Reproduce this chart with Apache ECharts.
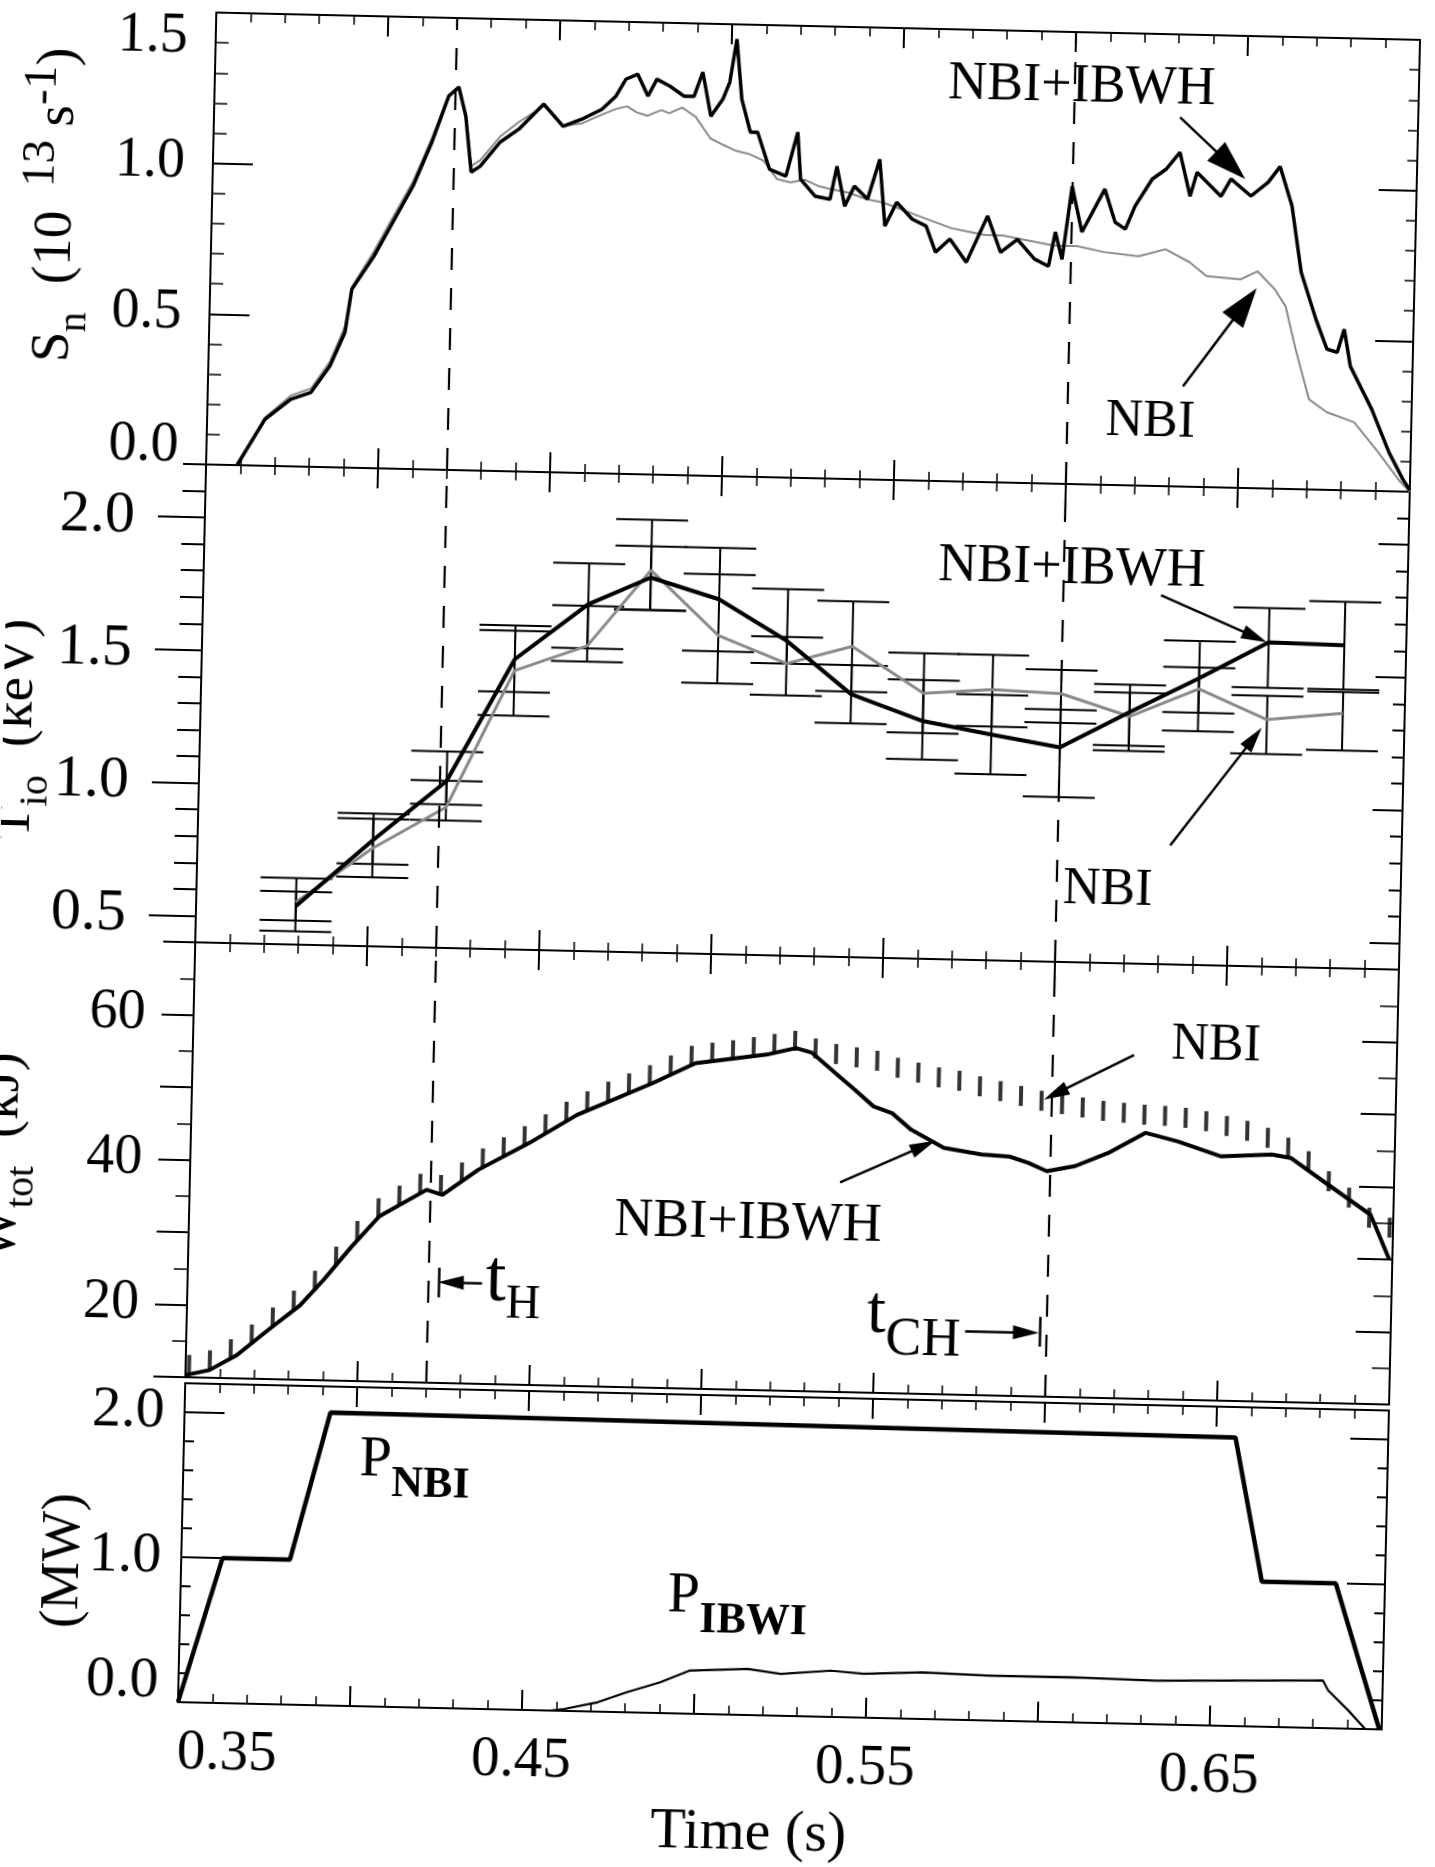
<!DOCTYPE html>
<html><head><meta charset="utf-8">
<script src="https://cdn.jsdelivr.net/npm/echarts@6/dist/echarts.min.js"></script>
<style>
html,body{margin:0;padding:0;background:#fff;width:1435px;height:1867px;overflow:hidden;}
#chart{position:absolute;left:0;top:0;width:1435px;height:1867px;transform-origin:799px 871px;transform:rotate(1.3deg);}
</style></head><body><div id="chart"></div>
<script>
const F = 'Liberation Serif';
const T_H = 0.423, T_CH = 0.598;

// ---------- tick labels ----------
const timeLabels = ['0.35','0.45','0.55','0.65'];
const snLabels = ['0.0','0.5','1.0','1.5'];
const tiLabels = ['0.5','1.0','1.5','2.0'];
const wLabels = ['20','40','60'];
const pLabels = ['0.0','1.0','2.0'];

// ---------- Panel 1: neutron source rate S_n [t, value] ----------
const snIbwh = [[0.359,0.00],[0.3668,0.154],[0.3742,0.223],[0.380,0.247],[0.3853,0.335],[0.3895,0.449],[0.3912,0.592],[0.3974,0.703],[0.4027,0.818],[0.4083,0.939],[0.4135,1.086],[0.4181,1.240],[0.421,1.271],[0.4232,1.175],[0.4251,0.990],[0.4277,1.010],[0.4333,1.091],[0.4387,1.136],[0.4458,1.221],[0.4515,1.149],[0.457,1.174],[0.4627,1.208],[0.4667,1.253],[0.4695,1.310],[0.4729,1.327],[0.476,1.255],[0.4785,1.312],[0.4823,1.290],[0.4865,1.258],[0.4894,1.258],[0.4918,1.339],[0.4944,1.193],[0.4978,1.251],[0.4997,1.308],[0.5015,1.451],[0.5033,1.252],[0.506,1.143],[0.5081,1.144],[0.5118,1.022],[0.5166,1.000],[0.5198,1.147],[0.5209,0.991],[0.5252,0.936],[0.5296,0.927],[0.5314,1.037],[0.5339,0.905],[0.5366,0.972],[0.5405,0.930],[0.5438,1.063],[0.5457,0.842],[0.549,0.922],[0.5536,0.867],[0.5577,0.845],[0.5606,0.759],[0.5647,0.804],[0.5696,0.728],[0.5755,0.883],[0.5795,0.764],[0.5843,0.808],[0.5894,0.744],[0.5935,0.721],[0.5953,0.835],[0.5974,0.745],[0.5999,0.988],[0.6030,0.837],[0.6094,0.981],[0.6126,0.872],[0.6156,0.850],[0.6183,0.927],[0.6231,1.018],[0.6271,1.052],[0.6310,1.109],[0.6342,0.964],[0.6361,1.044],[0.6432,0.966],[0.6460,1.024],[0.6519,0.969],[0.6568,1.016],[0.6602,1.069],[0.6639,0.939],[0.6670,0.720],[0.6716,0.565],[0.6750,0.467],[0.6780,0.457],[0.6799,0.534],[0.6819,0.412],[0.6884,0.271],[0.6937,0.129],[0.6979,0.041],[0.700,0.005]];
const snNbi = [[0.359,0.00],[0.3668,0.16],[0.3742,0.235],[0.380,0.26],[0.3853,0.35],[0.3895,0.47],[0.3912,0.60],[0.3974,0.72],[0.4027,0.835],[0.4083,0.955],[0.4135,1.10],[0.4181,1.245],[0.421,1.27],[0.4232,1.18],[0.4251,1.01],[0.4277,1.03],[0.4333,1.11],[0.4387,1.16],[0.4458,1.215],[0.4515,1.15],[0.457,1.16],[0.4627,1.19],[0.4667,1.21],[0.470,1.22],[0.4729,1.20],[0.476,1.19],[0.480,1.21],[0.4823,1.20],[0.486,1.22],[0.490,1.19],[0.4944,1.12],[0.498,1.10],[0.502,1.08],[0.506,1.07],[0.510,1.05],[0.514,0.99],[0.518,0.98],[0.522,0.99],[0.526,0.97],[0.530,0.96],[0.535,0.95],[0.540,0.93],[0.545,0.92],[0.550,0.90],[0.555,0.88],[0.560,0.86],[0.565,0.84],[0.570,0.83],[0.575,0.82],[0.580,0.82],[0.585,0.81],[0.590,0.80],[0.595,0.79],[0.6017,0.790],[0.6097,0.772],[0.6196,0.761],[0.6274,0.786],[0.6345,0.745],[0.6395,0.700],[0.6495,0.692],[0.6543,0.720],[0.6594,0.662],[0.6627,0.606],[0.6659,0.464],[0.6701,0.299],[0.6753,0.258],[0.6834,0.226],[0.6906,0.128],[0.6966,0.040],[0.700,0.0]];

// ---------- Panel 2: central ion temperature T_io ----------
const tiT      = [0.379,0.401,0.422,0.441,0.462,0.480,0.500,0.520,0.539,0.560,0.580,0.600,0.620,0.640,0.660,0.682];
const tiIbwhV  = [0.545,0.80,1.029,1.493,1.706,1.812,1.736,1.585,1.390,1.295,1.25,1.208,1.346,1.48,1.621,1.616];
const tiIbwhLo = [0.45,0.71,0.94,1.37,1.54,1.69,1.54,1.50,1.28,1.15,1.10,1.02,1.20,1.35,1.45,1.45];
const tiIbwhHi = [0.65,0.90,1.14,1.62,1.86,2.03,1.93,1.78,1.50,1.45,1.40,1.35,1.45,1.62,1.75,1.78];
const tiNbiV   = [0.56,0.77,0.93,1.45,1.55,1.84,1.60,1.50,1.57,1.40,1.42,1.41,1.33,1.44,1.33,1.36];
const tiNbiLo  = [0.49,0.66,0.88,1.28,1.49,1.69,1.42,1.38,1.40,1.25,1.28,1.30,1.22,1.28,1.20,1.22];
const tiNbiHi  = [0.60,0.88,1.03,1.60,1.70,1.93,1.83,1.60,1.74,1.55,1.55,1.50,1.42,1.52,1.42,1.44];

// ---------- Panel 3: stored energy W_tot ----------
const wIbwh = [[0.350,10.3],[0.3569,11.05],[0.3648,13.2],[0.3738,16.8],[0.3829,20.3],[0.3896,23.9],[0.3974,28.5],[0.4053,32.8],[0.4189,36.6],[0.4235,35.95],[0.4337,39.5],[0.4485,43.4],[0.4621,47.4],[0.4838,52.0],[0.4962,54.9],[0.5167,56.3],[0.5253,57.3],[0.530,56.7],[0.5386,53.3],[0.5426,51.75],[0.5482,49.5],[0.5537,48.6],[0.5593,46.4],[0.5689,44.0],[0.5799,43.2],[0.5881,43.0],[0.5936,42.2],[0.599,41.1],[0.6072,41.9],[0.6167,43.8],[0.6274,46.7],[0.637,45.6],[0.6494,43.7],[0.6643,44.1],[0.6698,43.7],[0.6809,40.1],[0.6934,36.1],[0.6991,30.0]];
const wNbi = [[0.351,11.7],[0.357,12.4],[0.363,14.0],[0.369,16.1],[0.375,18.5],[0.381,20.9],[0.387,23.7],[0.393,27.1],[0.399,30.7],[0.405,33.9],[0.411,35.7],[0.417,37.4],[0.423,37.3],[0.429,39.1],[0.435,41.1],[0.441,42.7],[0.447,44.3],[0.453,46.0],[0.459,47.8],[0.465,49.3],[0.471,50.7],[0.477,51.9],[0.483,53.1],[0.489,54.5],[0.495,55.9],[0.501,56.4],[0.507,56.8],[0.513,57.3],[0.519,57.8],[0.525,58.3],[0.531,57.3],[0.537,56.6],[0.543,56.2],[0.549,55.8],[0.555,54.9],[0.561,54.3],[0.567,53.7],[0.573,53.3],[0.579,52.6],[0.585,52.0],[0.591,51.4],[0.597,50.8],[0.603,50.4],[0.609,50.0],[0.615,49.6],[0.621,49.4],[0.627,49.2],[0.633,49.1],[0.639,48.9],[0.645,48.5],[0.651,47.9],[0.657,47.3],[0.663,46.4],[0.669,45.1],[0.675,43.3],[0.681,40.6],[0.687,38.4],[0.693,35.7],[0.699,34.4]];

// ---------- Panel 4: heating powers (MW) ----------
const pNbi = [[0.350,0],[0.362,1.0],[0.3816,1.0],[0.3924,2.02],[0.6556,1.99],[0.6642,1.0],[0.6857,1.0],[0.6993,0]];
const pIbwi = [[0.4582,0],[0.4624,0.014],[0.472,0.065],[0.4803,0.138],[0.490,0.212],[0.4984,0.297],[0.5153,0.318],[0.525,0.289],[0.5395,0.319],[0.5491,0.302],[0.566,0.322],[0.5855,0.31],[0.6097,0.311],[0.634,0.301],[0.6583,0.315],[0.6826,0.328],[0.6842,0.26],[0.6902,0.125],[0.6952,0]];

// ---------- helpers ----------
const black = '#000';
function xAx(g, pos) {
  const lab = (g === 3 && pos === 'bottom');
  return {
    type: 'value', gridIndex: g, position: pos, min: 0.35, max: 0.70, interval: 0.05,
    axisLine: {show: true, onZero: false, lineStyle: {color: black, width: 2}},
    axisTick: {show: true, inside: true, length: 20, lineStyle: {color: black, width: 2}},
    minorTick: {show: true, splitNumber: 5, length: 9, lineStyle: {color: black, width: 1.5}},
    splitLine: {show: false}, minorSplitLine: {show: false},
    axisLabel: lab ? {
      show: true, margin: 23, color: black, fontFamily: F, fontSize: 57, alignMinLabel: 'left',
      formatter: v => { const s = v.toFixed(2); return timeLabels.includes(s) ? s : ''; }
    } : {show: false}
  };
}
function yAx(g, pos, o) {
  return Object.assign({
    type: 'value', gridIndex: g, position: pos,
    axisLine: {show: true, onZero: false, lineStyle: {color: black, width: 2}},
    splitLine: {show: false}, minorSplitLine: {show: false},
    axisLabel: {show: false}
  }, o);
}
const tick = (inside, len) => ({show: true, inside: inside, length: len, lineStyle: {color: black, width: 2}});
const minor = (n, len) => ({show: true, splitNumber: n, length: len, lineStyle: {color: black, width: 1.5}});
const lab = (margin, size, fmt, rich) => ({show: true, margin: margin, color: black, fontFamily: F, fontSize: size, formatter: fmt, rich: rich || {}});

function dashML() {
  return {silent: true, symbol: ['none', 'none'], label: {show: false},
    lineStyle: {color: black, width: 2.2, type: [22, 18]},
    emphasis: {disabled: true},
    data: [{xAxis: T_H}, {xAxis: T_CH}]};
}
function arrowML(list) {
  return {silent: true, label: {show: false}, emphasis: {disabled: true},
    lineStyle: {color: black, width: 2.5, type: 'solid'},
    data: list.map(a => [
      {coord: a.from, symbol: 'none'},
      {coord: a.to, symbol: a.head ? 'triangle' : 'none', symbolSize: a.head || 1}
    ])};
}
function errBar(xi, yi, lo, hi) {
  return {
    type: 'custom', xAxisIndex: xi, yAxisIndex: yi, silent: true, z: 1,
    data: tiT.map((t, i) => [t, lo[i], hi[i]]),
    encode: {x: 0, y: [1, 2]},
    renderItem: (params, api) => {
      const t = api.value(0);
      const a = api.coord([t, api.value(1)]), b = api.coord([t, api.value(2)]);
      const hw = 36, st = {stroke: black, lineWidth: 2};
      return {type: 'group', children: [
        {type: 'line', shape: {x1: a[0], y1: a[1], x2: b[0], y2: b[1]}, style: st},
        {type: 'line', shape: {x1: a[0] - hw, y1: a[1], x2: a[0] + hw, y2: a[1]}, style: st},
        {type: 'line', shape: {x1: b[0] - hw, y1: b[1], x2: b[0] + hw, y2: b[1]}, style: st}
      ]};
    }
  };
}
const zip = (a, b) => a.map((x, i) => [x, b[i]]);

// rich styles for axis titles / annotations
const richTitle = {
  m: {fontFamily: F, fontSize: 55, lineHeight: 80, fill: black},
  s: {fontFamily: F, fontSize: 40, lineHeight: 22, verticalAlign: 'bottom', fill: black},
  p: {fontFamily: F, fontSize: 47, lineHeight: 36, verticalAlign: 'top', fill: black}
};
// subscript: main token is centred in a tall line box, the subscript sits at its bottom
const richSub = (mainSize, subSize, lineH, bold) => ({
  t: {fontFamily: F, fontSize: mainSize, lineHeight: lineH, fill: black},
  s: {fontFamily: F, fontSize: subSize, fontWeight: bold ? 'bold' : 'normal', lineHeight: subSize, verticalAlign: 'bottom', fill: black}
});
function txt(x, y, text, size, opts) {
  opts = opts || {};
  return {type: 'text', x: x, y: y, rotation: opts.rot || 0, silent: true,
    style: {text: text, fill: black, fontFamily: F, fontSize: size,
      align: opts.align || 'center', verticalAlign: 'middle', rich: opts.rich || {}}};
}

const grids = [
  {left: 197, right: 34, top: 26, height: 452},
  {left: 197, right: 34, top: 478, height: 478},
  {left: 197, right: 34, top: 956, height: 435},
  {left: 197, right: 34, top: 1397, height: 319}
].map(g => Object.assign(g, {containLabel: false, outerBoundsMode: 'none', show: false}));

const option = {
  animation: false,
  backgroundColor: '#fff',
  grid: grids,
  xAxis: [xAx(0,'bottom'), xAx(0,'top'), xAx(1,'bottom'), xAx(1,'top'), xAx(2,'bottom'), xAx(2,'top'), xAx(3,'bottom'), xAx(3,'top')],
  yAxis: [
    yAx(0, 'left', {min: 0, max: 1.5, interval: 0.5, axisTick: tick(true, 40), minorTick: minor(5, 13),
      axisLabel: lab(28, 56, v => { const s = v.toFixed(1); if (!snLabels.includes(s)) return '';
        if (s === '1.5') return '{t|' + s + '}'; if (s === '0.0') return '{b|' + s + '}'; return s; },
        {t: {fontFamily: F, fontSize: 56, padding: [50, 0, 0, 0]}, b: {fontFamily: F, fontSize: 56, padding: [0, 0, 36, 0]}})}),
    yAx(0, 'right', {min: 0, max: 1.5, interval: 0.5, axisTick: tick(true, 38), minorTick: minor(5, 10)}),
    yAx(1, 'left', {min: 0.4, max: 2.2, interval: 0.1, axisTick: tick(false, 23),
      axisLabel: lab(70, 60, v => { const s = v.toFixed(1); return tiLabels.includes(s) ? s : ''; })}),
    yAx(1, 'right', {min: 0.4, max: 2.2, interval: 0.1, axisTick: tick(true, 12)}),
    yAx(2, 'left', {min: 10, max: 70, interval: 10, axisTick: tick(false, 32), minorTick: minor(2, 14),
      axisLabel: lab(48, 56, v => { const s = String(Math.round(v)); return wLabels.includes(s) ? s : ''; })}),
    yAx(2, 'right', {min: 10, max: 70, interval: 10, axisTick: tick(true, 35), minorTick: minor(2, 18)}),
    yAx(3, 'left', {min: 0, max: 2.2, interval: 0.2, axisTick: tick(true, 10),
      axisLabel: lab(20, 58, v => { const s = v.toFixed(1); if (!pLabels.includes(s)) return '';
        return s === '0.0' ? '{b|0.0}' : s; }, {b: {fontFamily: F, fontSize: 58, padding: [0, 0, 40, 0]}})}),
    yAx(3, 'right', {min: 0, max: 2.2, interval: 0.2, axisTick: tick(true, 10)}),
    yAx(1, 'left', {min: 0.4, max: 2.2, axisLine: {show: false},
      axisTick: Object.assign(tick(false, 47), {customValues: [0.5, 1.0, 1.5, 2.0]})}),
    yAx(3, 'left', {min: 0, max: 2.2, axisLine: {show: false},
      axisTick: Object.assign(tick(true, 40), {customValues: [0, 1, 2]})}),
    yAx(3, 'right', {min: 0, max: 2.2, axisLine: {show: false},
      axisTick: Object.assign(tick(true, 38), {customValues: [0, 1, 2]})}),
    yAx(1, 'right', {min: 0.4, max: 2.2, axisLine: {show: false},
      axisTick: Object.assign(tick(true, 30), {customValues: [0.5, 1.0, 1.5, 2.0]})})
  ],
  series: [
    // ---- panel 1
    {type: 'line', name: 'NBI', xAxisIndex: 0, yAxisIndex: 0, data: snNbi, symbol: 'none', z: 2,
      lineStyle: {color: '#8a8a8a', width: 2},
      markLine: arrowML([
        {from: [0.6334, 0.333], to: [0.6508, 0.610], head: [26, 40]},
        {from: [0.6308, 1.225], to: [0.6458, 1.070], head: [26, 40]}
      ])},
    {type: 'line', name: 'NBI+IBWH', xAxisIndex: 0, yAxisIndex: 0, data: snIbwh, symbol: 'none', z: 3,
      lineStyle: {color: black, width: 3.5}, markLine: dashML()},
    // ---- panel 2
    errBar(2, 2, tiIbwhLo, tiIbwhHi),
    errBar(2, 2, tiNbiLo, tiNbiHi),
    {type: 'line', name: 'NBI', xAxisIndex: 2, yAxisIndex: 2, data: zip(tiT, tiNbiV), symbol: 'none', z: 2,
      lineStyle: {color: '#8a8a8a', width: 3},
      markLine: arrowML([
        {from: [0.6284, 1.789], to: [0.6560, 1.640], head: [14, 26]},
        {from: [0.6327, 0.848], to: [0.6563, 1.260], head: [14, 26]}
      ])},
    {type: 'line', name: 'NBI+IBWH', xAxisIndex: 2, yAxisIndex: 2, data: zip(tiT, tiIbwhV), symbol: 'none', z: 3,
      lineStyle: {color: black, width: 4}, markLine: dashML()},
    // ---- panel 3
    {type: 'line', name: 'NBI+IBWH', xAxisIndex: 4, yAxisIndex: 4, data: wIbwh, symbol: 'none', z: 3,
      lineStyle: {color: black, width: 4}, markLine: dashML()},
    {type: 'scatter', name: 'NBI', xAxisIndex: 4, yAxisIndex: 4, data: wNbi, symbol: 'rect', symbolSize: [4, 20],
      itemStyle: {color: black}, z: 2, silent: true,
      markLine: arrowML([
        {from: [0.6236, 57.4], to: [0.6010, 51.8], head: [14, 26]},
        {from: [0.5390, 38.9], to: [0.5630, 44.2], head: [14, 26]},
        {from: [0.4356, 23.9], to: [0.4265, 23.9], head: [14, 26]},
        {from: [0.5763, 18.8], to: [0.5940, 18.8], head: [14, 26]},
        {from: [T_H, 21.8], to: [T_H, 25.9]},
        {from: [T_CH, 16.9], to: [T_CH, 21.0]}
      ])},
    // ---- panel 4
    {type: 'line', name: 'P_NBI', xAxisIndex: 6, yAxisIndex: 6, data: pNbi, symbol: 'none',
      lineStyle: {color: black, width: 4.5}},
    {type: 'line', name: 'P_IBWI', xAxisIndex: 6, yAxisIndex: 6, data: pIbwi, symbol: 'none',
      lineStyle: {color: black, width: 2.2}}
  ],
  graphic: [
    txt(42, 222, '{m|S}{s|n}{m|  (10}{p|  13}{m| s}{p|-1}{m|)}', 55, {rot: Math.PI / 2, rich: richTitle}),
    txt(14, 747, '{m|T}{s|io}{m|  (keV)}', 56, {rot: Math.PI / 2, rich: richTitle}),
    txt(9, 1174, '{m|W}{s|tot}{m|  (kJ)}', 56, {rot: Math.PI / 2, rich: richTitle}),
    txt(80, 1577, '(MW)', 54, {rot: Math.PI / 2}),
    txt(770, 1835, 'Time (s)', 58),
    txt(1064, 81, 'NBI+IBWH', 54),
    txt(1140, 414, 'NBI', 52),
    txt(1065, 563, 'NBI+IBWH', 54),
    txt(1108, 883, 'NBI', 52),
    txt(1220, 1036, 'NBI', 52),
    txt(756, 1225, 'NBI+IBWH', 54),
    txt(495, 1288, '{t|t}{s|H}', 72, {align: 'left', rich: richSub(74, 48, 94, false)}),
    txt(877, 1312, '{t|t}{s|CH}', 66, {align: 'left', rich: richSub(68, 54, 106, false)}),
    txt(373, 1470, '{t|P}{s|NBI}', 56, {align: 'left', rich: richSub(58, 44, 92, true)}),
    txt(684, 1599, '{t|P}{s|IBWI}', 56, {align: 'left', rich: richSub(58, 44, 92, true)})
  ]
};

const chart = echarts.init(document.getElementById('chart'), null, {renderer: 'canvas'});
chart.setOption(option);
</script></body></html>
